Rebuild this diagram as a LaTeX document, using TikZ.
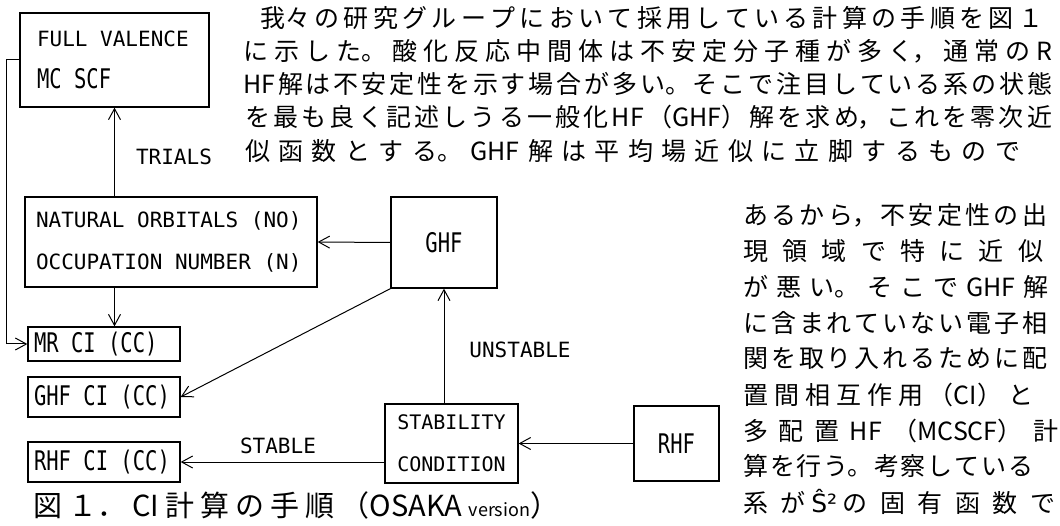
\documentclass[tikz,border=0pt]{standalone}
\usepackage{fontspec}
\usetikzlibrary{positioning,arrows.meta,calc}
\newfontfamily\jfont{Noto Sans CJK JP}
\newfontfamily\monofont{DejaVu Sans Mono}
\newfontfamily\narrowfont[FakeStretch=0.76]{DejaVu Sans Mono}
\newfontfamily\symfont{DejaVu Sans}
\newcommand{\cellspace}{\spaceskip=\fontcharwd\font`M\relax}
\newcommand{\tallmono}[1]{{\fontsize{27}{43}\narrowfont\cellspace #1}}
\newcommand{\jrow}[2]{\parbox{#1pt}{\XeTeXlinebreaklocale "ja"\XeTeXlinebreakskip=0pt plus 1fil\parfillskip=0pt\relax #2}}

\begin{document}
\begin{tikzpicture}[x=1pt, y=-1pt,
  box/.style={draw, line width=1.3pt, inner sep=0pt, font=\fontsize{21}{42}\monofont},
  lbl/.style={inner sep=0pt, font=\fontsize{21}{25}\monofont},
  jtxt/.style={inner sep=0pt, anchor=west, font=\fontsize{25}{30}\jfont},
  arr/.style={-{Straight Barb[length=11pt,width=12pt]}, line width=1pt},
]
\useasboundingbox (0,0) rectangle (1060,526);

% flow chart boxes
\node[box, minimum width=189pt, minimum height=94pt, text width=155pt, align=flush left] (fv) at (114.5,60) {\cellspace FULL VALENCE\\\tallmono{MC SCF}};
\node[box, minimum width=292pt, minimum height=90pt, text width=270pt, align=flush left] (no) at (171,242) {\cellspace NATURAL ORBITALS (NO)\\OCCUPATION NUMBER (N)};
\node[box, minimum width=106pt, minimum height=91pt] (ghf) at (444,242.5) {\tallmono{GHF}};
\node[box, minimum width=152pt, minimum height=34pt, text width=140pt, align=flush left] (mrci) at (104,344) {\tallmono{MR CI (CC)}};
\node[box, minimum width=152pt, minimum height=40pt, text width=140pt, align=flush left] (ghfci) at (104,397) {\tallmono{GHF CI (CC)}};
\node[box, minimum width=152pt, minimum height=40pt, text width=140pt, align=flush left] (rhfci) at (104,462) {\tallmono{RHF CI (CC)}};
\node[box, minimum width=133pt, minimum height=79pt, align=center, font=\fontsize{20}{42}\monofont] (stab) at (451.5,443.5) {STABILITY\\CONDITION};
\node[box, minimum width=85pt, minimum height=75pt] (rhf) at (676.5,443.5) {\tallmono{RHF}};

% labels
\node[lbl] (trials) at (174,157) {TRIALS};
\node[lbl] (unstable) at (520,350) {UNSTABLE};
\node[lbl] (stable) at (278,446) {STABLE};

% arrows
\draw[arr] (no.north -| fv.south) -- (fv.south);
\draw[arr] (fv.west) -- ++(-13,0) |- (mrci.west);
\draw[arr] (no.south -| fv.south) -- (mrci.north -| fv.south);
\draw[arr] (ghf.west) -- (no.east);
\draw[arr] (ghf.south west) -- (ghfci.east);
\draw[arr] (stab.north -| ghf.south) -- (ghf.south);
\draw[arr] (stab.west |- rhfci.east) -- (rhfci.east);
\draw[arr] (rhf.west) -- (stab.east);

% running text
\node[jtxt] (p1) at (260,18) {\jrow{783}{我々の研究グループにおいて採用している計算の手順を図１}};
\node[jtxt] (p2) at (243,51) {\jrow{809}{に示した。酸化反応中間体は不安定分子種が多く，通常のR}};
\node[jtxt] (p3) at (243,84) {\jrow{809}{HF解は不安定性を示す場合が多い。そこで注目している系の状態}};
\node[jtxt] (p4) at (245,117) {\jrow{807}{を最も良く記述しうる一般化HF（GHF）解を求め，これを零次近}};
\node[jtxt] (p5) at (245,151) {\jrow{775}{似函数とする。GHF解は平均場近似に立脚するもので}};

\node[jtxt] (q1) at (743,215) {\jrow{304}{あるから，不安定性の出}};
\node[jtxt] (q2) at (743,251) {\jrow{300}{現領域で特に近似}};
\node[jtxt] (q3) at (743,287) {\jrow{305}{が悪い。そこでGHF解}};
\node[jtxt] (q4) at (743,323) {\jrow{304}{に含まれていない電子相}};
\node[jtxt] (q5) at (743,359) {\jrow{304}{関を取り入れるために配}};
\node[jtxt] (q6) at (743,395) {\jrow{290}{置間相互作用（CI）と}};
\node[jtxt] (q7) at (743,431) {\jrow{315}{多配置HF（MCSCF）計}};
\node[jtxt] (q8) at (743,466) {\jrow{290}{算を行う。考察している}};
\node[jtxt] (q9) at (743,502) {\jrow{312}{系が {\symfont Ŝ²} の固有函数で}};

% caption
\node[jtxt, font=\fontsize{29}{32}\jfont] (cap) at (33,505) {\jrow{526}{図１．CI 計算の手順（OSAKA {\fontsize{18}{20}\selectfont version}）}};

\end{tikzpicture}
\end{document}
